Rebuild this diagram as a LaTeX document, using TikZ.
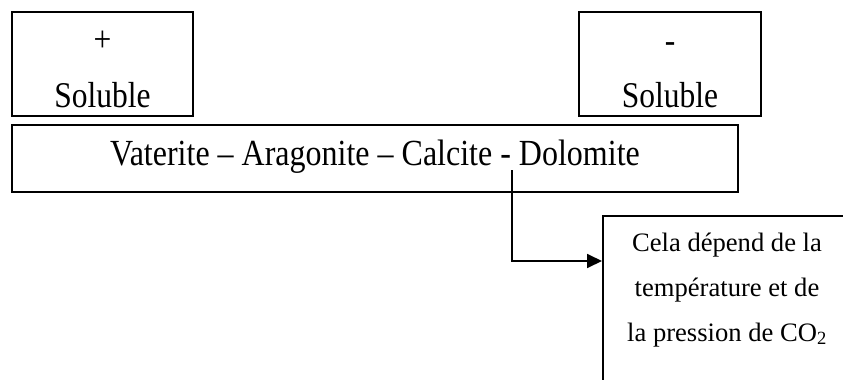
\documentclass[tikz,border=0pt]{standalone}
\usepackage{fontspec}
\usepackage{graphicx}
\setmainfont{Liberation Serif}
\usetikzlibrary{arrows.meta}

% large labels are set taller than wide
\newcommand{\tallish}[1]{\scalebox{1}[1.15]{#1}}

\tikzset{
  frame/.style={draw=black, line width=1.8pt, inner sep=0pt},
  bigtext/.style={font=\fontsize{31.5}{40}\selectfont, inner sep=0pt, anchor=base},
  maintext/.style={font=\fontsize{32}{40}\selectfont, inner sep=0pt, anchor=base},
  smalltext/.style={font=\fontsize{26.6}{32}\selectfont, inner sep=0pt, anchor=base},
  link/.style={draw=black, line width=1.8pt, -{Triangle[length=15pt,width=14pt]}}
}

\begin{document}
\begin{tikzpicture}[x=1pt, y=-1pt]
  \clip (0,0) rectangle (843,380);
  \fill[white] (0,0) rectangle (843,380);

  % solubility boxes
  \node[frame, minimum width=181pt, minimum height=104pt] (more) at (102.5,64) {};
  \node[bigtext] (plus) at (102.5,51) {\tallish{+}};
  \node[bigtext] (solA) at (102.5,107) {\tallish{Soluble}};

  \node[frame, minimum width=182pt, minimum height=104pt] (less) at (670,64) {};
  \node[bigtext] (minus) at (670,52) {\tallish{-}};
  \node[bigtext] (solB) at (670,107) {\tallish{Soluble}};

  % mineral sequence
  \node[frame, minimum width=726pt, minimum height=67pt] (main) at (375,158.5) {};
  \node[maintext] (seq) at (375,165)
    {\tallish{Vaterite – Aragonite – Calcite - Dolomite}};

  % note box running off the page
  \node[frame, anchor=north west, minimum width=250pt, minimum height=220pt] (note) at (602,215) {};
  \node[smalltext] (noteA) at (727,251) {Cela dépend de la};
  \node[smalltext] (noteB) at (727,296) {température et de};
  \node[smalltext] (noteC) at (727,341) {la pression de CO\textsubscript{2}};

  % connector
  \coordinate (start) at (512,170);
  \draw[link] (start) |- ([yshift=-46pt]note.north west);
\end{tikzpicture}
\end{document}
